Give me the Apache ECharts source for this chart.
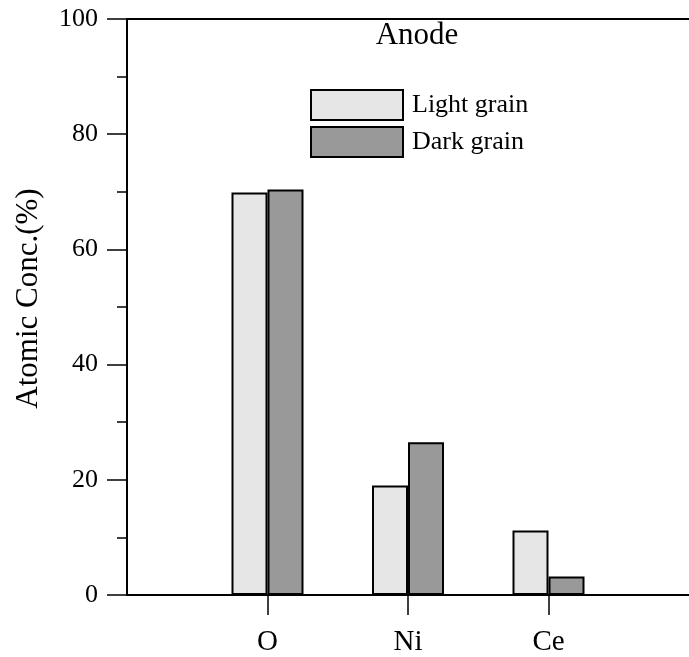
<!DOCTYPE html>
<html>
<head>
<meta charset="utf-8">
<script src="https://cdn.jsdelivr.net/npm/echarts@6/dist/echarts.min.js"></script>
<style>
html,body{margin:0;padding:0;background:#fff;}
#chart{width:689px;height:657px;}
</style>
</head>
<body>
<div id="chart"></div>
<script>
var categories = ['O', 'Ni', 'Ce'];
var lightGrain = [69.9, 19.0, 11.2];
var darkGrain = [70.4, 26.5, 3.2];
var yTicks = [0, 20, 40, 60, 80, 100];

var FONT = '"Liberation Serif", "Times New Roman", serif';
// pad with empty slots so the axis starts one step before O and ends one step after Ce
var axisCats = [''].concat(categories, ['']);
var lightData = ['-'].concat(lightGrain, ['-']);
var darkData = ['-'].concat(darkGrain, ['-']);

var chart = echarts.init(document.getElementById('chart'), null, {renderer: 'canvas'});
chart.setOption({
  backgroundColor: '#fff',
  animation: false,
  title: {
    text: 'Anode',
    left: 417, top: 20, padding: 0,
    textAlign: 'center',
    textStyle: {fontFamily: FONT, fontSize: 31, fontWeight: 'normal', color: '#000'}
  },
  legend: {
    orient: 'vertical',
    left: 310, top: 89, padding: 0,
    itemWidth: 92, itemHeight: 30, itemGap: 5,
    icon: 'rect',
    data: ['Light grain', 'Dark grain'],
    textStyle: {fontFamily: FONT, fontSize: 26, color: '#000', padding: [0, 0, 0, 4]}
  },
  grid: {left: 127, top: 19, width: 576, height: 577, containLabel: false},
  xAxis: [{
    type: 'category',
    data: axisCats,
    boundaryGap: false,
    position: 'bottom',
    axisLine: {show: true, lineStyle: {color: '#000', width: 2}},
    axisTick: {show: true, inside: false, length: 20, lineStyle: {color: '#000', width: 1.5},
      interval: function (i) { return i >= 1 && i <= categories.length; }},
    axisLabel: {show: true, margin: 33, fontFamily: FONT, fontSize: 29, color: '#000',
      interval: function (i) { return i >= 1 && i <= categories.length; }},
    splitLine: {show: false}
  }, {
    type: 'category',
    data: axisCats,
    boundaryGap: false,
    position: 'top',
    axisLine: {show: true, lineStyle: {color: '#000', width: 2}},
    axisTick: {show: false},
    axisLabel: {show: false},
    splitLine: {show: false}
  }],
  yAxis: {
    type: 'value',
    min: yTicks[0], max: yTicks[yTicks.length - 1], interval: 20,
    name: 'Atomic Conc.(%)',
    nameLocation: 'middle',
    nameGap: 83,
    nameTextStyle: {fontFamily: FONT, fontSize: 31, color: '#000', padding: [0, 0, 0, 17]},
    axisLine: {show: true, lineStyle: {color: '#000', width: 2}},
    axisTick: {show: true, inside: false, length: 20, lineStyle: {color: '#000', width: 1.5}},
    minorTick: {show: true, splitNumber: 2, length: 10, lineStyle: {color: '#000', width: 1.5}},
    axisLabel: {margin: 29, fontFamily: FONT, fontSize: 26, color: '#000', padding: [4, 0, 0, 0]},
    splitLine: {show: false}
  },
  series: [{
    name: 'Light grain',
    type: 'bar',
    xAxisIndex: 0,
    data: lightData,
    barWidth: 36,
    barGap: '0%',
    itemStyle: {color: '#e6e6e6', borderColor: '#000', borderWidth: 2}
  }, {
    name: 'Dark grain',
    type: 'bar',
    xAxisIndex: 0,
    data: darkData,
    barWidth: 36,
    barGap: '0%',
    itemStyle: {color: '#999999', borderColor: '#000', borderWidth: 2}
  }]
});
</script>
</body>
</html>
